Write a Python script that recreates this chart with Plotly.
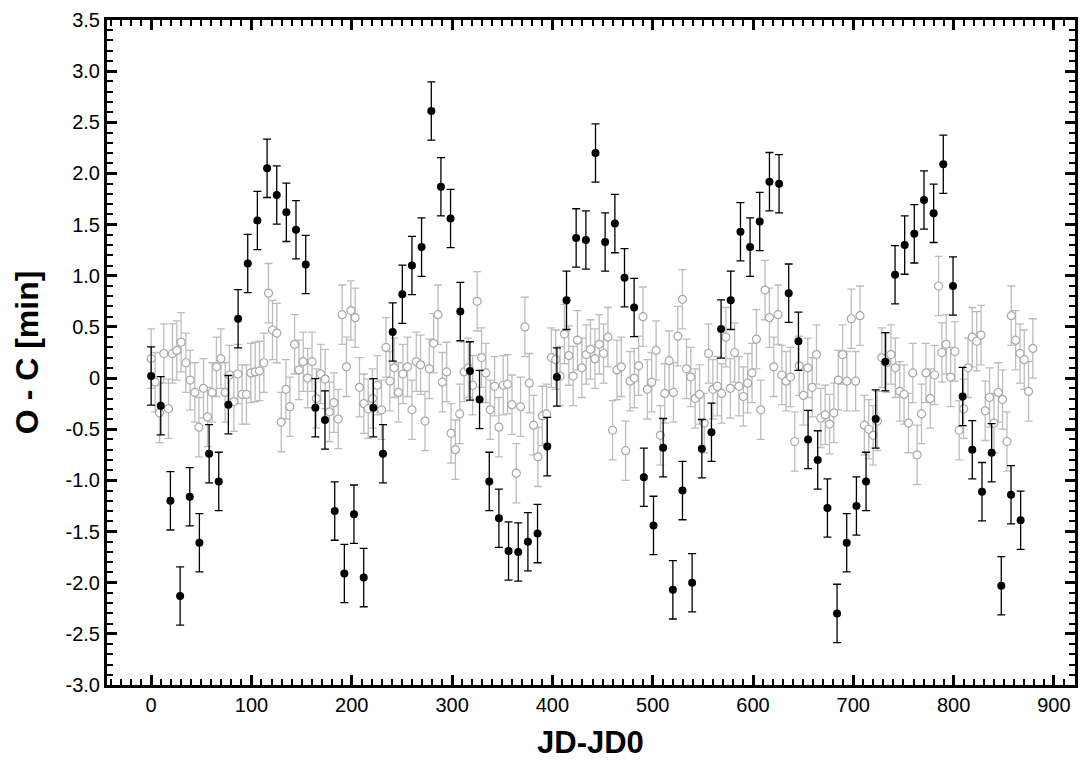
import plotly.graph_objects as go

# Black (filled) series
black_x = [0, 9.6, 19.2, 28.9, 38.5, 48.1, 57.8, 67.4, 77, 86.7, 96.3, 105.9, 115.6, 125.2, 134.8,
           144.4, 154.1, 163.7, 173.3, 183, 192.6, 202.2, 211.9, 221.5, 231.1, 240.8, 250.4, 260,
           269.6, 279.3, 288.9, 298.5, 308.2, 317.8, 327.4, 337.1, 346.7, 356.3, 366, 375.6, 385.2,
           394.9, 404.5, 414.1, 423.7, 433.4, 443, 452.6, 462.3, 471.9, 481.5, 491.2, 500.8, 510.4,
           520.1, 529.7, 539.3, 549, 558.6, 568.2, 577.8, 587.5, 597.1, 606.7, 616.4, 626, 635.6,
           645.3, 654.9, 664.5, 674.2, 683.8, 693.4, 703.1, 712.7, 722.3, 731.9, 741.6, 751.2,
           760.8, 770.5, 780.1, 789.7, 799.4, 809, 818.6, 828.3, 837.9, 847.5, 857.2, 866.8]
black_y = [0.02, -0.27, -1.20, -2.13, -1.16, -1.61, -0.74, -1.01, -0.26, 0.58, 1.12, 1.54, 2.05,
           1.79, 1.62, 1.45, 1.11, -0.29, -0.41, -1.30, -1.91, -1.33, -1.95, -0.29, -0.74, 0.45,
           0.82, 1.10, 1.28, 2.61, 1.87, 1.56, 0.65, 0.07, -0.21, -1.01, -1.37, -1.69, -1.70,
           -1.60, -1.52, -0.67, 0.01, 0.76, 1.37, 1.35, 2.20, 1.33, 1.51, 0.98, 0.69, -0.97,
           -1.44, -0.68, -2.07, -1.10, -2.00, -0.69, -0.53, 0.48, 0.76, 1.43, 1.28, 1.53, 1.92,
           1.90, 0.83, 0.36, -0.60, -0.80, -1.27, -2.30, -1.61, -1.25, -1.01, -0.40, 0.16, 1.01,
           1.30, 1.41, 1.74, 1.61, 2.09, 0.90, -0.18, -0.70, -1.11, -0.73, -2.03, -1.14, -1.39]
black_err = 0.285

# Gray (open) series
gray_x = [0, 4, 8.3, 12.6, 17.3, 21.3, 25.6, 29.9, 34.6, 38.9, 43.6, 47.6, 52.2, 56.2, 60.8, 65.1,
          69.5, 73.8, 78.1, 82.5, 86.4, 90.7, 95, 99.4, 103.7, 108, 112.4, 117, 121, 125.3, 129.7,
          134.4, 138.3, 143, 147.4, 151.6, 156, 160.4, 164.7, 169, 173.5, 177.8, 182.2, 186.5,
          190.4, 194.7, 199.1, 203.4, 207.7, 212.1, 216.4, 220.7, 225.4, 229.7, 234.1, 238, 242.3,
          246.6, 251, 255.6, 260, 264.3, 268.6, 273, 277.3, 281.6, 286, 290.3, 294.6, 299, 303.3,
          307.6, 312, 316.3, 320.5, 325, 329.4, 333.7, 338, 342.4, 346.7, 351, 355.4, 359.7, 364,
          368.3, 372.6, 377, 381.3, 385.6, 390, 394.3, 399, 403.3, 407.7, 412, 416.4, 420.7, 425,
          429.4, 433.7, 438, 442.4, 446.7, 451, 455.4, 460, 464.4, 468.7, 473, 477.4, 481.7, 486,
          490.3, 494.7, 499, 503.4, 507.7, 512, 516.4, 520.7, 525, 529.7, 533.7, 538, 542.4, 546.7,
          551.4, 555.7, 560, 564.4, 568.7, 573, 577.4, 581.7, 586, 590.4, 594.7, 599, 603.4, 607.7,
          612, 616.4, 620.7, 625, 628.7, 633, 637.3, 641.6, 646, 650.3, 654.6, 659, 663.3, 667.6,
          672, 676.3, 680.6, 685, 689.3, 693.6, 698, 702.3, 706.7, 711, 715.4, 719.7, 724, 728.4,
          733, 737.5, 741.9, 746.3, 750.6, 755, 759.3, 763.6, 768, 772.4, 776.7, 781, 785, 788.3,
          792.6, 797, 801.3, 805.6, 810, 814.3, 818.6, 823, 827.3, 831.5, 835.8, 840.2, 844.5,
          848.8, 853.2, 857.5, 861.8, 866.2, 870.4, 874.7, 879]
gray_y = [0.19, -0.04, -0.34, 0.24, -0.30, 0.24, 0.27, 0.35, 0.15, -0.02, -0.14, -0.48, -0.10,
          -0.38, -0.14, 0.11, 0.19, -0.14, 0.03, -0.23, 0.04, -0.16, -0.16, 0.05, 0.06, 0.07, 0.15,
          0.83, 0.47, 0.44, -0.43, -0.11, -0.28, 0.33, 0.08, 0.16, 0.00, 0.16, -0.20, 0.04, -0.01,
          -0.33, -0.24, -0.40, 0.62, 0.11, 0.66, 0.59, -0.09, -0.25, -0.30, -0.20, -0.07, -0.31,
          0.30, -0.03, 0.10, -0.14, 0.04, 0.11, -0.31, 0.16, 0.13, -0.42, 0.09, 0.34, 0.62, -0.04,
          0.06, -0.54, -0.70, -0.35, 0.06, 0.10, -0.07, 0.75, 0.20, 0.05, -0.31, -0.08, -0.48,
          -0.07, -0.06, -0.26, -0.93, -0.28, 0.50, -0.05, -0.46, -0.77, -0.37, -0.35, 0.20, 0.18,
          0.02, 0.43, 0.22, 0.02, 0.37, 0.10, 0.23, 0.28, 0.19, 0.33, 0.24, 0.40, -0.51, 0.08, 0.11,
          -0.71, -0.03, 0.00, 0.12, 0.60, -0.11, -0.04, 0.27, -0.56, -0.15, 0.17, -0.14, 0.41, 0.77,
          0.09, 0.01, -0.20, -0.16, -0.44, 0.24, -0.11, -0.08, -0.15, 0.40, -0.10, 0.25, -0.08,
          -0.18, -0.05, 0.05, 0.38, -0.31, 0.86, 0.59, 0.11, 0.62, 0.03, -0.03, 0.01, -0.62, 0.12,
          -0.17, 0.10, -0.09, 0.23, -0.39, -0.36, -0.45, -0.34, -0.02, 0.23, -0.03, 0.58, -0.03,
          0.61, -0.46, -0.50, -0.56, -0.42, 0.20, 0.15, 0.23, 0.10, -0.13, -0.16, -0.44, 0.05,
          -0.75, -0.35, 0.05, -0.20, 0.03, 0.90, 0.25, 0.33, 0.01, 0.26, -0.51, -0.30, 0.10, 0.40,
          0.36, 0.42, -0.32, -0.19, -0.44, -0.14, -0.21, -0.62, 0.61, 0.37, 0.24, 0.18, -0.13, 0.29]
gray_err = 0.29

y_tickvals = [-3.0, -2.5, -2.0, -1.5, -1.0, -0.5, 0, 0.5, 1.0, 1.5, 2.0, 2.5, 3.0, 3.5]
y_ticktext = ["-3.0", "-2.5", "-2.0", "-1.5", "-1.0", "-0.5", "0", "0.5", "1.0", "1.5", "2.0",
              "2.5", "3.0", "3.5"]
x_tickvals = [0, 100, 200, 300, 400, 500, 600, 700, 800, 900]
x_ticktext = ["0", "100", "200", "300", "400", "500", "600", "700", "800", "900"]
x_range = [-44, 921]
y_range = [-3.0, 3.5]

fig = go.Figure()
fig.add_trace(go.Scatter(
    x=gray_x, y=gray_y, mode="markers",
    marker=dict(symbol="circle", size=8, color="white", line=dict(color="#a8a8a8", width=1.2)),
    error_y=dict(type="constant", value=gray_err, color="#bdbdbd", thickness=1.3, width=4),
    showlegend=False,
))
fig.add_trace(go.Scatter(
    x=black_x, y=black_y, mode="markers",
    marker=dict(symbol="circle", size=8, color="black", line=dict(width=0)),
    error_y=dict(type="constant", value=black_err, color="black", thickness=1.3, width=4),
    showlegend=False,
))
# empty trace to activate the top/right frame axes
fig.add_trace(go.Scatter(x=[], y=[], xaxis="x2", yaxis="y2", mode="markers",
                         showlegend=False, hoverinfo="skip"))

font_family = "Liberation Sans, Arial, Helvetica, sans-serif"
axis_common = dict(
    showgrid=False, zeroline=False, showline=True, linecolor="black", linewidth=3,
    ticks="inside", ticklen=10, tickwidth=3, tickcolor="black",
    tickfont=dict(family=font_family, size=20, color="black"),
)
xminor = dict(dtick=10, ticks="inside", ticklen=6, tickwidth=2, tickcolor="black")
yminor = dict(dtick=0.1, ticks="inside", ticklen=6, tickwidth=2, tickcolor="black")

fig.update_layout(
    width=1082, height=763,
    margin=dict(l=107, r=7, t=20, b=78),
    paper_bgcolor="white", plot_bgcolor="white",
    xaxis=dict(range=x_range, tickvals=x_tickvals, ticktext=x_ticktext, minor=xminor,
               **axis_common),
    yaxis=dict(range=y_range, tickvals=y_tickvals, ticktext=y_ticktext, minor=yminor,
               **axis_common),
    xaxis2=dict(range=x_range, tickvals=x_tickvals, showticklabels=False, minor=xminor,
                overlaying="x", side="top", anchor="y2", **axis_common),
    yaxis2=dict(range=y_range, tickvals=y_tickvals, showticklabels=False, minor=yminor,
                overlaying="y", side="right", anchor="x2", **axis_common),
    annotations=[
        dict(text="<b>O - C [min]</b>", xref="paper", yref="paper", x=-0.083, y=0.5,
             xanchor="center", yanchor="middle", textangle=-90, showarrow=False,
             font=dict(family=font_family, size=32, color="black")),
        dict(text="<b>JD-JD0</b>", xref="paper", yref="paper", x=0.499, y=-0.086,
             xanchor="center", yanchor="middle", showarrow=False,
             font=dict(family=font_family, size=31, color="black")),
    ],
)

fig.write_html("out.html")
